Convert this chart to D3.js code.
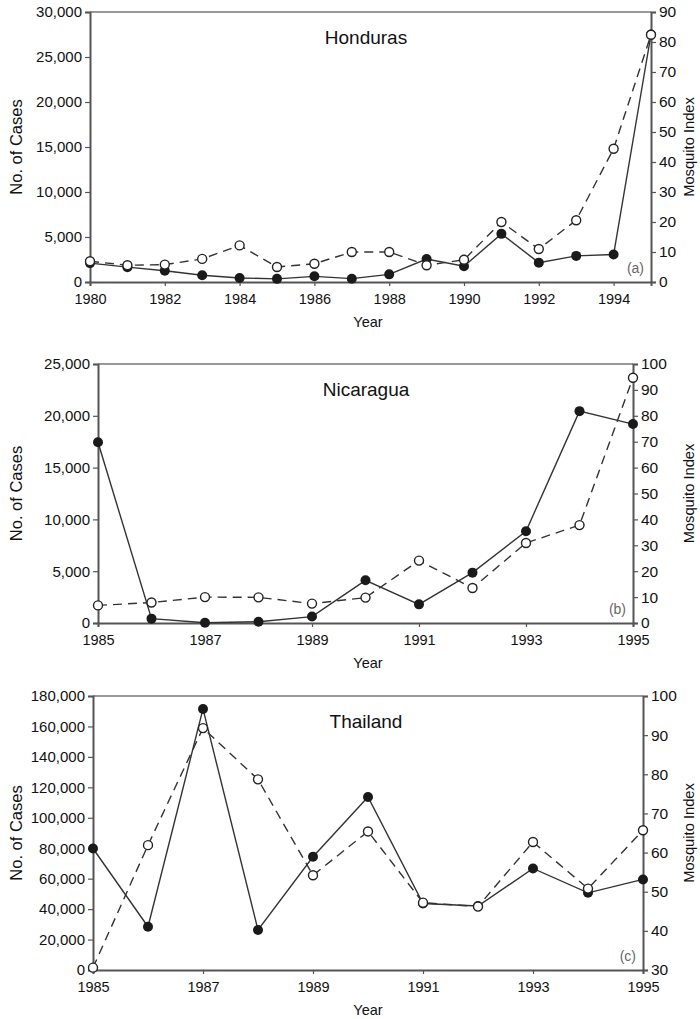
<!DOCTYPE html>
<html>
<head>
<meta charset="utf-8">
<script src="https://cdn.jsdelivr.net/npm/d3@7"></script>
<style>
  body { margin: 0; background: #fff; }
  svg { display: block; font-family: "Liberation Sans", Arial, sans-serif; }
</style>
</head>
<body>
<div id="chart"></div>
<script>
// data: filled circles = cases, open circles = mosquito index
var hondurasYears = d3.range(1980, 1996);
var hondurasCases = [2100, 1650, 1250, 750, 450, 350, 630, 370, 850, 2550, 1750, 5350, 2150, 2900, 3050, 27500];
var hondurasIndex = [6.9, 5.6, 5.8, 7.7, 12.2, 5.0, 6.1, 10, 10, 5.6, 7.4, 20, 11, 20.6, 44.4, 82.4];

var nicaraguaYears = d3.range(1985, 1996);
var nicaraguaCases = [17450, 420, 30, 120, 620, 4120, 1800, 4860, 8860, 20450, 19200];
var nicaraguaIndex = [6.8, 7.9, 10, 9.9, 7.5, 9.8, 24.1, 13.5, 30.9, 37.8, 94.7];

var thailandYears = d3.range(1985, 1996);
var thailandCases = [79800, 28400, 171500, 26300, 74400, 113700, 43700, 42000, 66700, 50700, 59500];
var thailandIndex = [30.6, 61.9, 91.8, 78.7, 54.2, 65.4, 47.2, 46.2, 62.7, 50.8, 65.7];

var hondurasXTicks = [1980, 1982, 1984, 1986, 1988, 1990, 1992, 1994];
var laterXTicks = [1985, 1987, 1989, 1991, 1993, 1995];

var panels = [
  {name: "Honduras", tag: "(a)", years: hondurasYears, cases: hondurasCases, index: hondurasIndex,
   xTicks: hondurasXTicks, casesMax: 30000, casesStep: 5000, indexMin: 0, indexMax: 90,
   left: 90, right: 651, top: 12, bottom: 282},
  {name: "Nicaragua", tag: "(b)", years: nicaraguaYears, cases: nicaraguaCases, index: nicaraguaIndex,
   xTicks: laterXTicks, casesMax: 25000, casesStep: 5000, indexMin: 0, indexMax: 100,
   left: 98, right: 633, top: 364, bottom: 623},
  {name: "Thailand", tag: "(c)", years: thailandYears, cases: thailandCases, index: thailandIndex,
   xTicks: laterXTicks, casesMax: 180000, casesStep: 20000, indexMin: 30, indexMax: 100,
   left: 93, right: 643, top: 696, bottom: 970}
];

var svg = d3.select("#chart").append("svg")
    .attr("width", 700)
    .attr("height", 1019);

var axisColor = "#555",
    lineColor = "#333";

panels.forEach(function(p) {
  var x = d3.scaleLinear()
      .domain([p.years[0], p.years[p.years.length - 1]])
      .range([p.left, p.right]);
  var yCases = d3.scaleLinear().domain([0, p.casesMax]).range([p.bottom, p.top]);
  var yIndex = d3.scaleLinear().domain([p.indexMin, p.indexMax]).range([p.bottom, p.top]);

  var g = svg.append("g");

  // top frame line
  g.append("line")
      .attr("x1", p.left).attr("x2", p.right)
      .attr("y1", p.top).attr("y2", p.top)
      .attr("stroke", "#777").attr("stroke-width", 1.5);

  // axes
  var xAxis = g.append("g")
      .attr("transform", "translate(0," + p.bottom + ")")
      .call(d3.axisBottom(x).tickValues(p.xTicks).tickFormat(d3.format("d")).tickSize(4).tickPadding(8));
  var yAxisL = g.append("g")
      .attr("transform", "translate(" + p.left + ",0)")
      .call(d3.axisLeft(yCases).tickValues(d3.range(0, p.casesMax + 1, p.casesStep)).tickFormat(d3.format(",")).tickSize(5).tickPadding(3));
  var yAxisR = g.append("g")
      .attr("transform", "translate(" + p.right + ",0)")
      .call(d3.axisRight(yIndex).tickValues(d3.range(p.indexMin, p.indexMax + 1, 10)).tickSize(5).tickPadding(3));

  [xAxis, yAxisL, yAxisR].forEach(function(a) {
    a.select(".domain").attr("stroke", axisColor).attr("stroke-width", 2);
    a.selectAll(".tick line").attr("stroke", axisColor).attr("stroke-width", 1.2);
    a.selectAll(".tick text").attr("fill", "#111");
  });
  xAxis.selectAll(".tick text").attr("font-size", 14.5);
  yAxisL.selectAll(".tick text").attr("font-size", 15);
  yAxisR.selectAll(".tick text").attr("font-size", 15.5);

  // axis titles
  var midY = (p.top + p.bottom) / 2;
  g.append("text")
      .attr("transform", "translate(22," + midY + ") rotate(-90)")
      .attr("text-anchor", "middle")
      .attr("font-size", 16.5)
      .attr("fill", "#111")
      .text("No. of Cases");
  g.append("text")
      .attr("transform", "translate(694," + midY + ") rotate(-90)")
      .attr("text-anchor", "middle")
      .attr("font-size", 14.7)
      .attr("fill", "#111")
      .text("Mosquito Index");
  g.append("text")
      .attr("x", 368)
      .attr("y", p.bottom + 45)
      .attr("text-anchor", "middle")
      .attr("font-size", 14.5)
      .attr("fill", "#111")
      .text("Year");

  // country name and panel tag
  g.append("text")
      .attr("x", 366)
      .attr("y", p.top + 32)
      .attr("text-anchor", "middle")
      .attr("font-size", 19)
      .attr("fill", "#111")
      .text(p.name);
  g.append("text")
      .attr("x", p.right - 7)
      .attr("y", p.bottom - 9)
      .attr("text-anchor", "end")
      .attr("font-size", 14)
      .attr("fill", "#666")
      .text(p.tag);

  var casesLine = d3.line()
      .x(function(d, i) { return x(p.years[i]); })
      .y(function(d) { return yCases(d); });
  var indexLine = d3.line()
      .x(function(d, i) { return x(p.years[i]); })
      .y(function(d) { return yIndex(d); });

  g.append("path")
      .datum(p.index)
      .attr("d", indexLine)
      .attr("fill", "none")
      .attr("stroke", lineColor)
      .attr("stroke-width", 1.4)
      .attr("stroke-dasharray", "9,6");
  g.append("path")
      .datum(p.cases)
      .attr("d", casesLine)
      .attr("fill", "none")
      .attr("stroke", lineColor)
      .attr("stroke-width", 1.4);

  g.selectAll(".case-pt")
    .data(p.cases)
    .enter().append("circle")
      .attr("class", "case-pt")
      .attr("cx", function(d, i) { return x(p.years[i]); })
      .attr("cy", function(d) { return yCases(d); })
      .attr("r", 5)
      .attr("fill", "#1a1a1a");

  g.selectAll(".index-pt")
    .data(p.index)
    .enter().append("circle")
      .attr("class", "index-pt")
      .attr("cx", function(d, i) { return x(p.years[i]); })
      .attr("cy", function(d) { return yIndex(d); })
      .attr("r", 4.5)
      .attr("fill", "#fff")
      .attr("stroke", "#222")
      .attr("stroke-width", 1.4);
});
</script>
</body>
</html>
